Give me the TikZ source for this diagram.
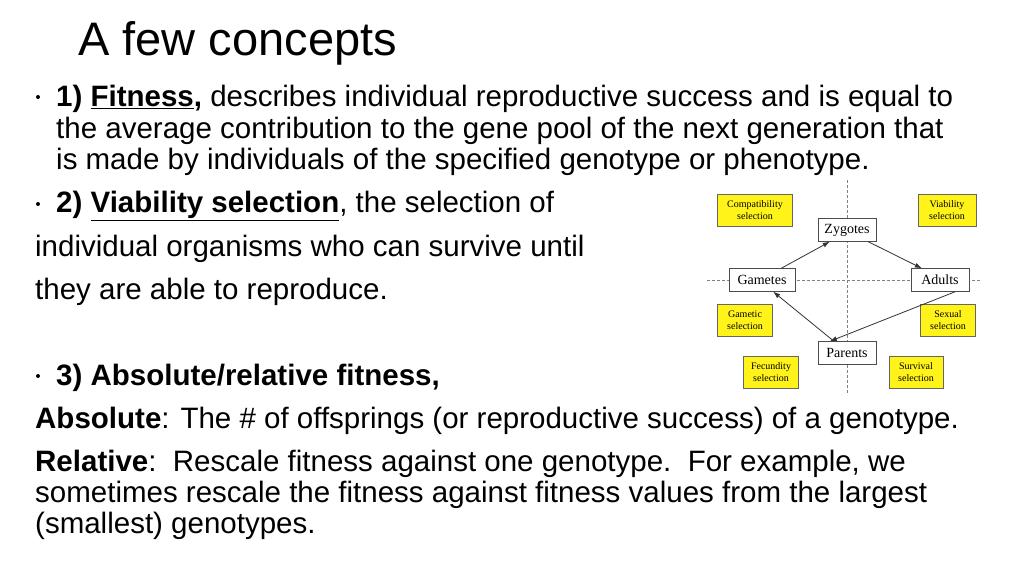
\documentclass[tikz,border=0pt]{standalone}
\usepackage{fontspec}
\setmainfont{Liberation Sans}
\newfontfamily\tms{Liberation Serif}
\usetikzlibrary{arrows.meta}
\begin{document}
\begin{tikzpicture}[x=1pt,y=-1pt,
 txt/.style={anchor=west,inner sep=0pt,font=\fontsize{29.5}{34}\selectfont},
 dot/.style={circle,fill=black,inner sep=0pt,minimum size=4pt},
 stage/.style={draw=black!70,fill=white,minimum width=58pt,minimum height=23pt,inner sep=0pt,font=\tms\fontsize{14}{16}\selectfont},
 sel/.style={draw=black!60,fill=yellow!90!white,minimum height=32pt,inner sep=0pt,align=center,font=\tms\fontsize{10}{12}\selectfont},
 arr/.style={-{Latex[length=7pt,width=5pt]},thick,black!80},
 guide/.style={densely dashed,black!50,thin}]
\useasboundingbox[fill=white] (0,0) rectangle (1024,576);
\node[anchor=west,inner sep=0pt,font=\fontsize{47}{54}\selectfont] (title) at (78,43) {A few concepts};
\node[dot] (b1) at (38,97) {};
\node[txt] (l1) at (56,99) {\textbf{1) \underline{Fitness},} describes individual reproductive success and is equal to};
\node[txt] (l2) at (56,131) {the average contribution to the gene pool of the next generation that};
\node[txt] (l3) at (56,162) {is made by individuals of the specified genotype or phenotype.};
\node[dot] (b2) at (38,204) {};
\node[txt] (l4) at (56,206) {\textbf{2) \underline{Viability selection}}, the selection of};
\node[txt] (l5) at (35,249) {individual organisms who can survive until};
\node[txt] (l6) at (35,292) {they are able to reproduce.};
\node[dot] (b3) at (38,376) {};
\node[txt] (l7) at (56,378) {\textbf{3) Absolute/relative fitness,}};
\node[txt] (l8) at (35,421) {\textbf{Absolute}: The \# of offsprings (or reproductive success) of a genotype.};
\node[txt] (l9) at (35,464) {\textbf{Relative}:\ \ Rescale fitness against one genotype.\ \ For example, we};
\node[txt] (l10) at (35,495) {sometimes rescale the fitness against fitness values from the largest};
\node[txt] (l11) at (35,526) {(smallest) genotypes.};
% guides
\coordinate (vt) at (847,180); \coordinate (vb) at (847,395);
\coordinate (hl) at (707,280); \coordinate (hr) at (982,280);
\draw[guide] (vt) -- (vb);
\draw[guide] (hl) -- (hr);
\node[stage] (zyg) at (847,230) {Zygotes};
\node[stage,minimum width=66pt] (gam) at (762,280) {Gametes};
\node[stage] (adu) at (940,280) {Adults};
\node[stage] (par) at (847,353) {Parents};
\node[sel,minimum width=75pt] (s1) at (755,210) {Compatibility\\selection};
\node[sel,minimum width=58pt] (s2) at (947,210) {Viability\\selection};
\node[sel,minimum width=55pt] (s3) at (745,320) {Gametic\\selection};
\node[sel,minimum width=55pt] (s4) at (948,320) {Sexual\\selection};
\node[sel,minimum width=55pt] (s5) at (771,372) {Fecundity\\selection};
\node[sel,minimum width=54pt] (s6) at (916,372) {Survival\\selection};
\draw[arr] ([xshift=-14pt]gam.north east) -- ([xshift=12pt]zyg.south west);
\draw[arr] ([xshift=-8pt]zyg.south east) -- ([xshift=11pt]adu.north west);
\draw[arr] ([xshift=-14pt]adu.south east) -- ([xshift=12pt]par.north west);
\draw[arr] ([xshift=-13pt]par.north) -- ([xshift=-22pt]gam.south east);
\end{tikzpicture}
\end{document}
